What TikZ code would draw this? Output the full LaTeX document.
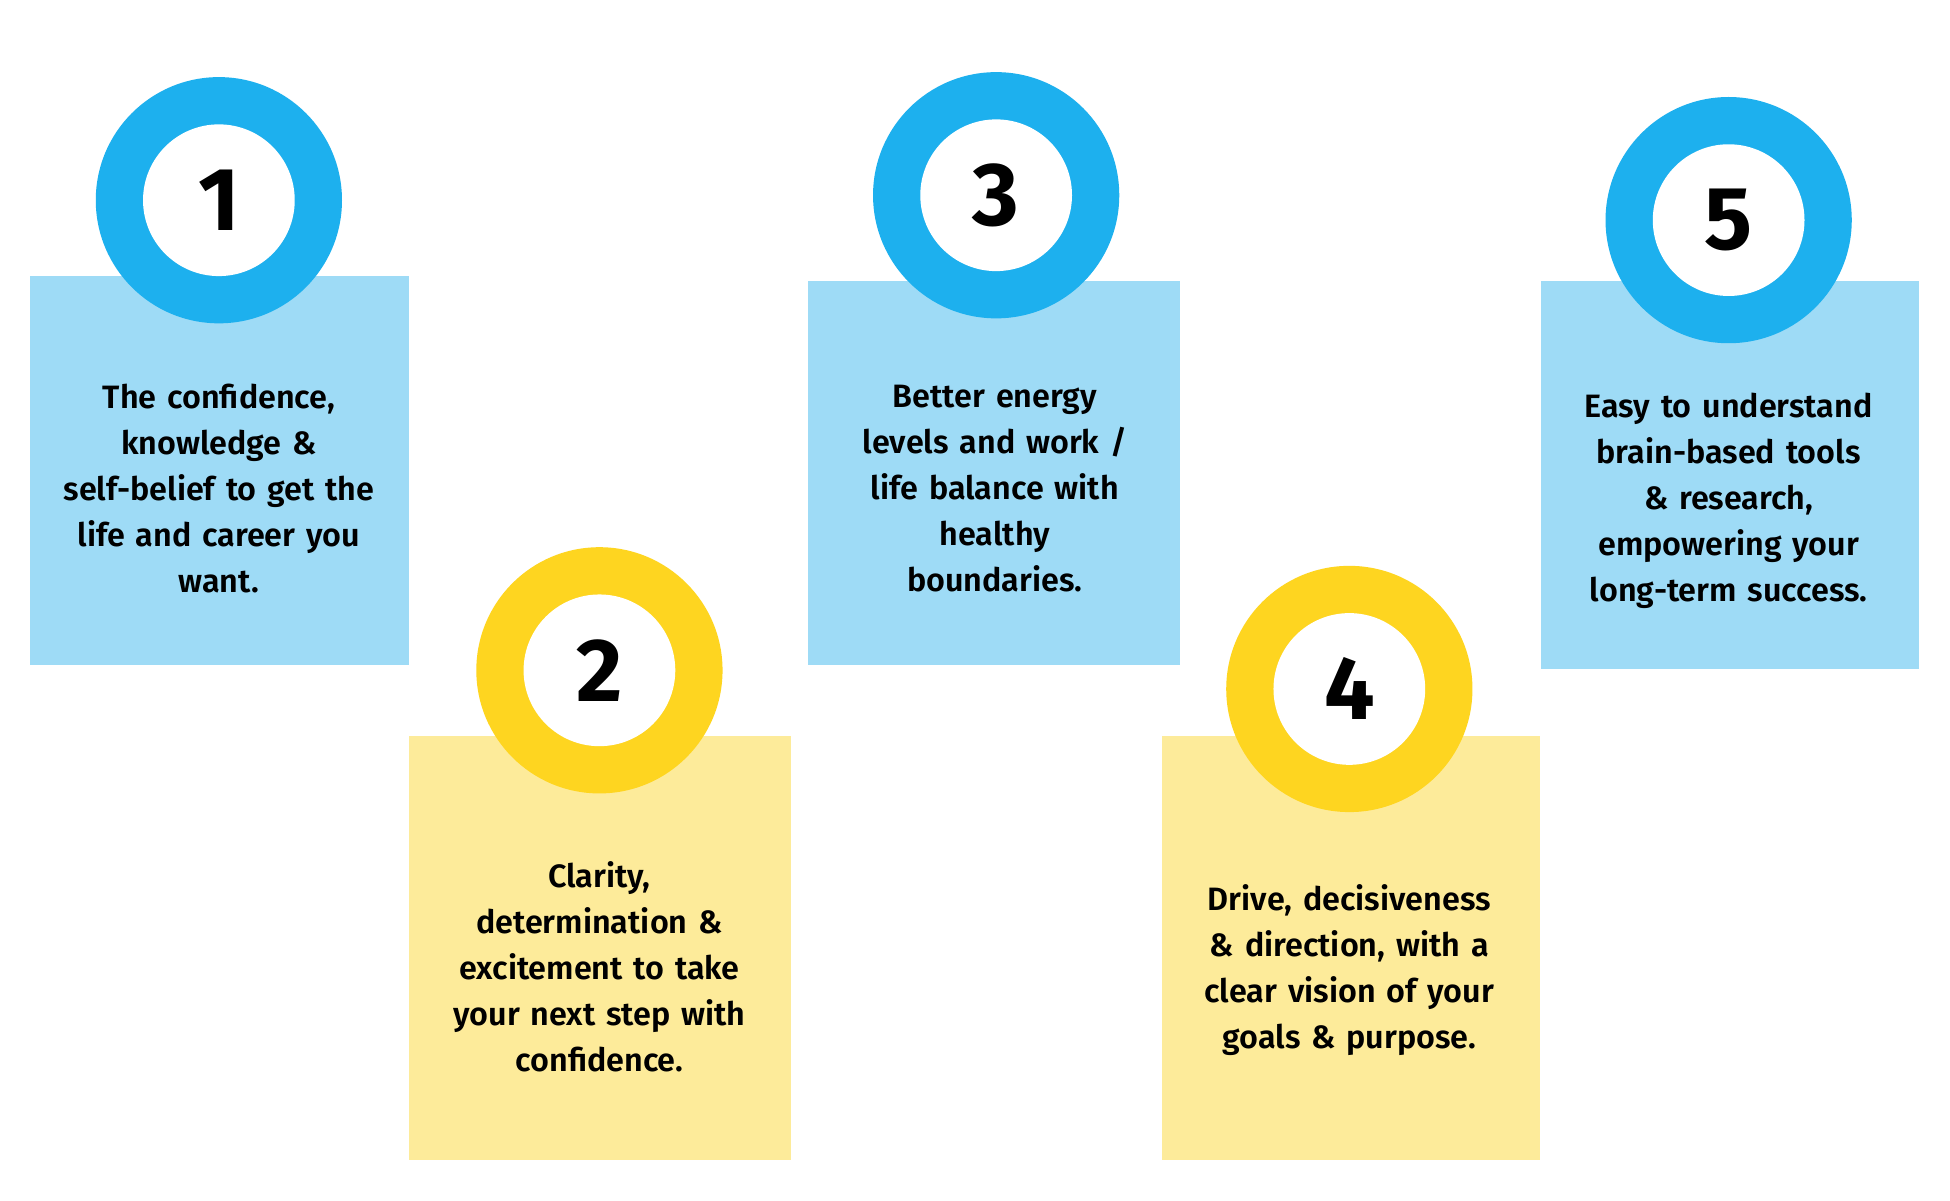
\documentclass[tikz,border=0pt]{standalone}
\usepackage{fontspec}
\setmainfont{Fira Sans}[UprightFont={* SemiBold},BoldFont={* Bold}]
\definecolor{ringblue}{HTML}{1DB0EE}
\definecolor{boxblue}{HTML}{9EDBF6}
\definecolor{ringyellow}{HTML}{FED520}
\definecolor{boxyellow}{HTML}{FDEB9A}
\begin{document}
\begin{tikzpicture}[x=1pt,y=-1pt,
  ring/.style={circle,minimum size=198pt,inner sep=0pt},
  hole/.style={circle,fill=white,minimum size=122pt,inner sep=0pt,font=\fontsize{72}{72}\selectfont\bfseries},
  body/.style={align=center,font=\fontsize{26}{37}\selectfont,text width=290pt}]
\useasboundingbox (0,0) rectangle (1568,965);
\fill[white] (0,0) rectangle (1568,965);
% boxes
\fill[boxblue] (24,222) rectangle (329,535);
\fill[boxyellow] (329,592) rectangle (636,933);
\fill[boxblue] (650,226) rectangle (949,535);
\fill[boxyellow] (934,592) rectangle (1238,933);
\fill[boxblue] (1239,226) rectangle (1543,538);
% rings
\node[ring,fill=ringblue] (r1) at (176,161) {};
\node[hole] (n1) at (r1) {1};
\node[ring,fill=ringyellow] (r2) at (482,539) {};
\node[hole] (n2) at (r2) {2};
\node[ring,fill=ringblue] (r3) at (801,157) {};
\node[hole] (n3) at (r3) {3};
\node[ring,fill=ringyellow] (r4) at (1085,554) {};
\node[hole] (n4) at (r4) {4};
\node[ring,fill=ringblue] (r5) at (1390,177) {};
\node[hole] (n5) at (r5) {5};
% texts
\node[body] (t1) at (176,392.5) {The confidence,\\knowledge \&\\self-belief to get the\\life and career you\\want.};
\node[body] (t2) at (482,777.5) {Clarity,\\determination \&\\excitement to take\\your next step with\\confidence.};
\node[body] (t3) at (800,393) {Better energy\\levels and work /\\life balance with\\healthy\\boundaries.};
\node[body] (t4) at (1085,780) {Drive, decisiveness\\\& direction, with a\\clear vision of your\\goals \& purpose.};
\node[body] (t5) at (1390,403) {Easy to understand\\brain-based tools\\\& research,\\empowering your\\long-term success.};
\end{tikzpicture}
\end{document}
